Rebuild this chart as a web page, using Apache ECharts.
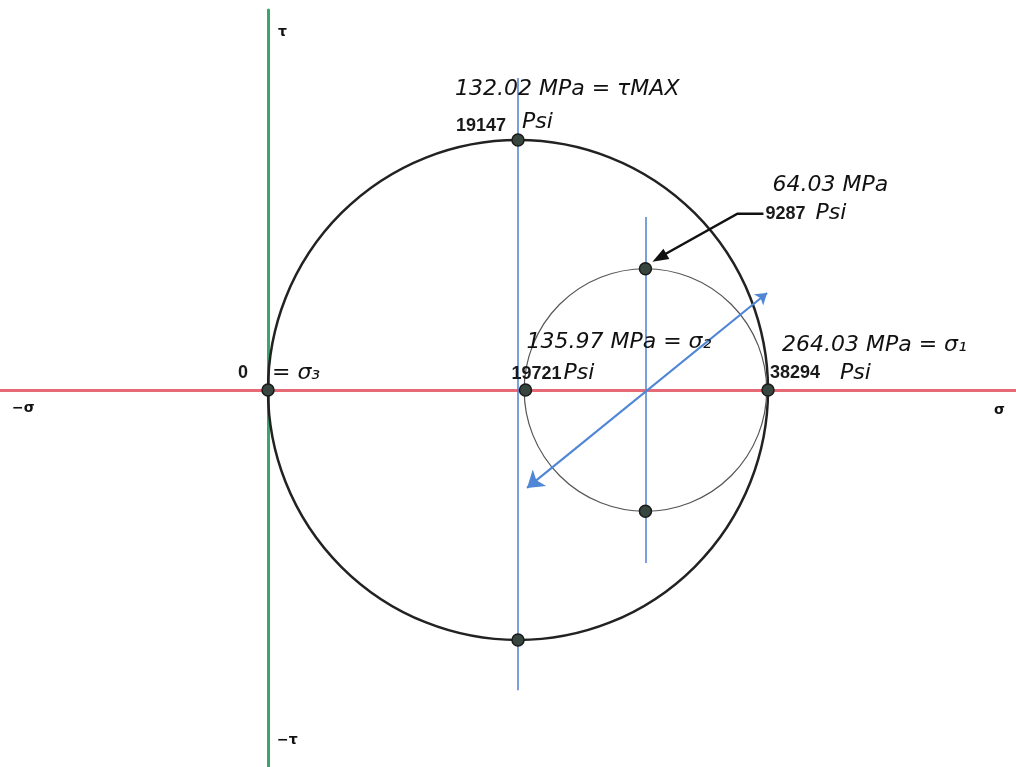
<!DOCTYPE html>
<html><head><meta charset="utf-8">
<script src="https://cdn.jsdelivr.net/npm/echarts@6/dist/echarts.min.js"></script>
<style>html,body{margin:0;padding:0;background:#fff}#c{width:1016px;height:767px}</style>
</head><body><div id="c"></div>
<script>
// ---- data (psi) ----
const circleCenters = [19147, 28907.5];
const circleRadii = [19147, 9286.5];
const pointSigma = [0, 19147, 19147, 19721, 38294, 28907.5, 28907.5];
const pointTau = [0, 19147, -19147, 0, 0, 9287, -9287];
const pointValueLabels = ['0', '19147', '', '19721', '38294', '9287', ''];
const pointUnitNotes = ['= σ₃', 'Psi', '', 'Psi', 'Psi', 'Psi', ''];
const pointMpaNotes = ['', '132.02 MPa = τMAX', '', '135.97 MPa = σ₂', '264.03 MPa = σ₁', '64.03 MPa', ''];
// blue construction lines [sigma1, tau1, sigma2, tau2]
const bigCenterLine = [19147, 23900, 19147, -23000];
const smallCenterLine = [28907.5, 13250, 28907.5, -13250];
const diagonalArrow = [19840, -7500, 38225, 7430];
const axisNames = ['τ', '−σ', 'σ', '−τ'];

const K = 19147 / 250; // psi per pixel (layout scale)
const chart = echarts.init(document.getElementById('c'));

const dots = pointSigma.map((s, i) => [s, pointTau[i]]);

chart.setOption({
  animation: false,
  backgroundColor: '#ffffff',
  grid: { left: 0, right: 0, top: 10, bottom: 0 },
  xAxis: {
    type: 'value', min: -268 * K, max: 748 * K,
    axisLine: { onZero: true, lineStyle: { color: '#e66a76', width: 3 } },
    axisTick: { show: false }, axisLabel: { show: false }, splitLine: { show: false }
  },
  yAxis: {
    type: 'value', min: -377 * K, max: 380 * K,
    axisLine: { onZero: true, lineStyle: { color: '#3aa56c', width: 3 } },
    axisTick: { show: false }, axisLabel: { show: false }, splitLine: { show: false }
  },
  series: [
    {
      type: 'custom', z: 3,
      data: circleCenters.map((c, i) => [c, 0, circleRadii[i], i]),
      renderItem: function (params, api) {
        const p = api.coord([api.value(0), api.value(1)]);
        const r = api.size([api.value(2), 0])[0];
        const big = api.value(3) === 0;
        return {
          type: 'circle',
          shape: { cx: p[0], cy: p[1], r: r },
          style: { fill: 'none', stroke: big ? '#222' : '#555', lineWidth: big ? 2.5 : 1.2 }
        };
      }
    },
    {
      type: 'lines', coordinateSystem: 'cartesian2d', z: 4,
      lineStyle: { color: '#5a88d6', width: 1.6, opacity: 1 },
      data: [
        { coords: [[bigCenterLine[0], bigCenterLine[1]], [bigCenterLine[2], bigCenterLine[3]]] },
        { coords: [[smallCenterLine[0], smallCenterLine[1]], [smallCenterLine[2], smallCenterLine[3]]] }
      ]
    },
    {
      type: 'lines', coordinateSystem: 'cartesian2d', z: 5,
      symbol: ['arrow', 'arrow'], symbolSize: [16, 11],
      lineStyle: { color: '#4f86d6', width: 2.2, opacity: 1 },
      data: [{ coords: [[diagonalArrow[0], diagonalArrow[1]], [diagonalArrow[2], diagonalArrow[3]]] }]
    },
    {
      type: 'scatter', z: 6, symbolSize: 12,
      itemStyle: { color: '#37463f', borderColor: '#1a1a1a', borderWidth: 1.5, opacity: 1 },
      data: dots
    }
  ]
});

// ---- annotations anchored on the data points ----
const typed = { fontFamily: 'Liberation Sans', fontSize: 18, fontWeight: 'bold', fill: '#1a1a1a' };
const hand = { fontFamily: 'DejaVu Sans', fontStyle: 'italic', fontSize: 22, fill: '#111' };
// offsets (px) for each point: [value label dx, dy, align], [unit dx, dy], [mpa dx, dy]
const layout = [
  { v: [-20, -17, 'right'], u: [4, -17], m: null },
  { v: [-12, -14, 'right'], u: [4, -18], m: [-63, -51] },
  null,
  { v: [-14, -16, 'left'], u: [38, -17], m: [1, -48] },
  { v: [2, -17, 'left'], u: [72, -17], m: [14, -45] },
  { v: [120, -55, 'left'], u: [170, -55], m: [127, -83] },
  null
];
const g = [];
dots.forEach((d, i) => {
  const L = layout[i];
  if (!L) return;
  const p = chart.convertToPixel({ gridIndex: 0 }, d);
  if (pointValueLabels[i]) g.push({ type: 'text', z: 20, x: p[0] + L.v[0], y: p[1] + L.v[1],
    style: Object.assign({ text: pointValueLabels[i], align: L.v[2], verticalAlign: 'middle' }, typed) });
  if (pointUnitNotes[i]) g.push({ type: 'text', z: 20, x: p[0] + L.u[0], y: p[1] + L.u[1],
    style: Object.assign({ text: pointUnitNotes[i], align: 'left', verticalAlign: 'middle' }, hand) });
  if (L.m && pointMpaNotes[i]) g.push({ type: 'text', z: 20, x: p[0] + L.m[0], y: p[1] + L.m[1],
    style: Object.assign({ text: pointMpaNotes[i], align: 'left', verticalAlign: 'middle' }, hand) });
});
// leader arrow to the small circle top point
(function () {
  const p = chart.convertToPixel({ gridIndex: 0 }, dots[5]);
  const tip = [p[0] + 7, p[1] - 7], elbow = [p[0] + 92, p[1] - 55], end = [p[0] + 118, p[1] - 55];
  g.push({ type: 'polyline', z: 20, shape: { points: [end, elbow, [tip[0] + 8, tip[1] - 5]] },
    style: { stroke: '#111', lineWidth: 2.5, fill: 'none' } });
  const dx = tip[0] - elbow[0], dy = tip[1] - elbow[1], len = Math.hypot(dx, dy);
  const ux = dx / len, uy = dy / len, nx = -uy, ny = ux;
  const bl = 16, bw = 6;
  g.push({ type: 'polygon', z: 20, shape: { points: [tip,
    [tip[0] - ux * bl + nx * bw, tip[1] - uy * bl + ny * bw],
    [tip[0] - ux * bl - nx * bw, tip[1] - uy * bl - ny * bw]] }, style: { fill: '#111' } });
})();
// axis end names
const o = chart.convertToPixel({ gridIndex: 0 }, [0, 0]);
const axisStyle = { fontFamily: 'DejaVu Sans', fontSize: 14, fontWeight: 'bold', fill: '#111', verticalAlign: 'middle' };
g.push({ type: 'text', x: o[0] + 10, y: 32, style: Object.assign({ text: axisNames[0], align: 'left' }, axisStyle) });
g.push({ type: 'text', x: 12, y: o[1] + 18, style: Object.assign({ text: axisNames[1], align: 'left' }, axisStyle) });
g.push({ type: 'text', x: 994, y: o[1] + 20, style: Object.assign({ text: axisNames[2], align: 'left' }, axisStyle) });
g.push({ type: 'text', x: o[0] + 9, y: 740, style: Object.assign({ text: axisNames[3], align: 'left' }, axisStyle) });
chart.setOption({ graphic: g });
</script></body></html>
